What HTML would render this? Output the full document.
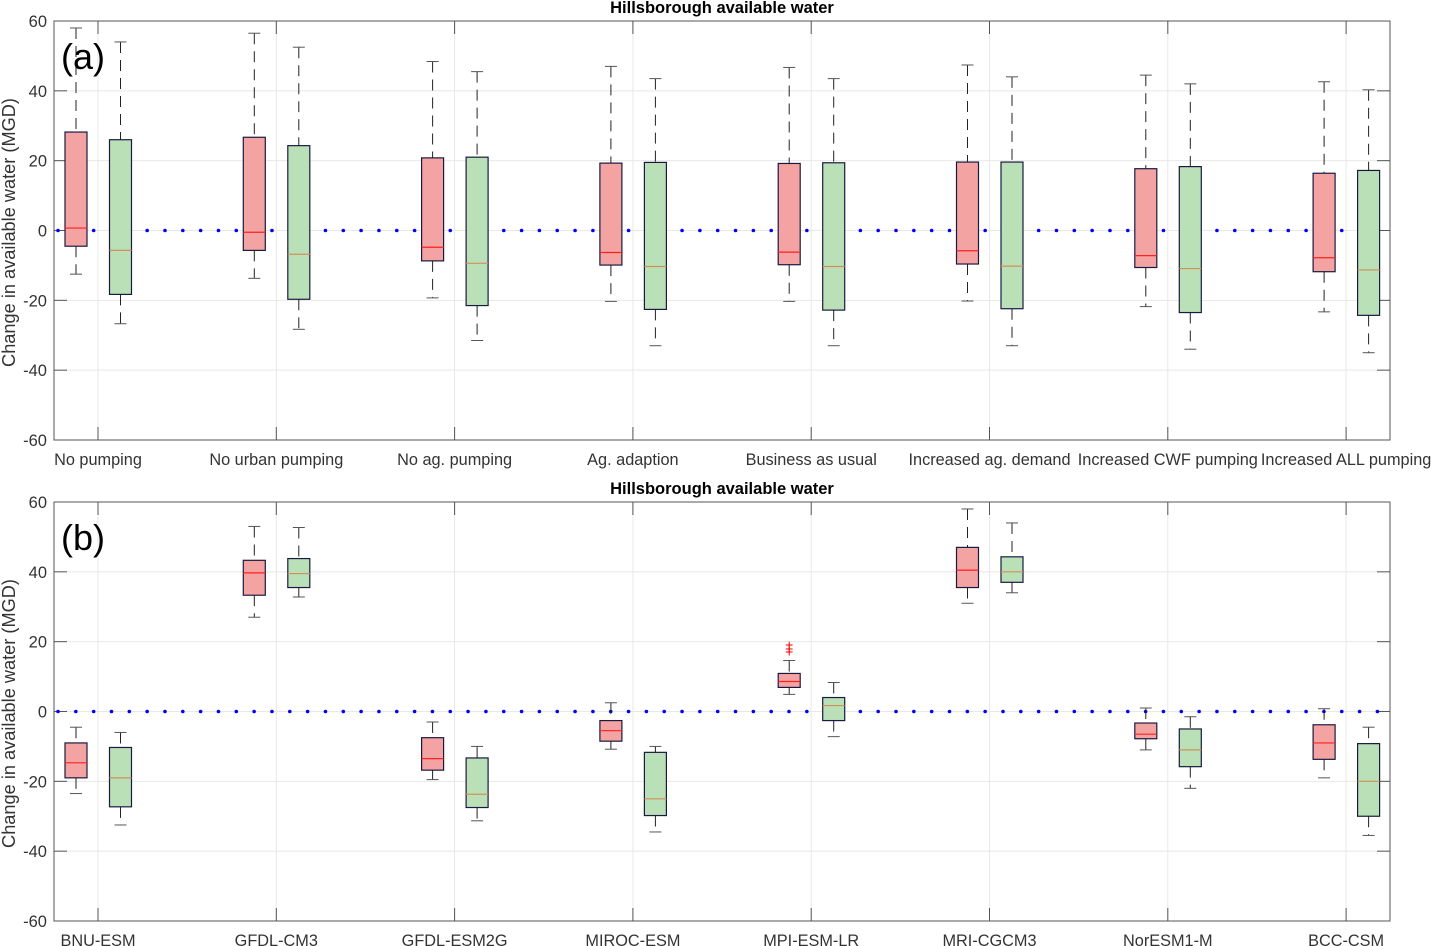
<!DOCTYPE html>
<html><head><meta charset="utf-8"><style>
html,body{margin:0;padding:0;background:#fff;}
svg{display:block;font-family:"Liberation Sans",sans-serif;}
</style></head><body>
<svg id="chart" width="1431" height="946" viewBox="0 0 1431 946" xmlns="http://www.w3.org/2000/svg"></svg>
<script>
// Panel (a) data
const catsA = ["No pumping","No urban pumping","No ag. pumping","Ag. adaption","Business as usual","Increased ag. demand","Increased CWF pumping","Increased ALL pumping"];
// [max, q3, median, q1, min]
const redA = [[58,28.2,0.7,-4.5,-12.5],[56.5,26.7,-0.5,-5.7,-13.7],[48.4,20.8,-4.8,-8.7,-19.3],[47,19.3,-6.3,-9.9,-20.3],[46.7,19.2,-6.2,-9.8,-20.3],[47.4,19.6,-5.8,-9.6,-20.2],[44.5,17.7,-7.2,-10.6,-21.8],[42.6,16.4,-7.8,-11.8,-23.3]];
const greenA = [[54,26,-5.7,-18.3,-26.7],[52.5,24.3,-6.8,-19.7,-28.3],[45.5,21,-9.4,-21.5,-31.5],[43.5,19.5,-10.3,-22.6,-33],[43.5,19.4,-10.3,-22.8,-33],[44,19.6,-10.2,-22.4,-33],[42,18.3,-10.9,-23.5,-34],[40.3,17.2,-11.3,-24.3,-35]];
// Panel (b) data
const catsB = ["BNU-ESM","GFDL-CM3","GFDL-ESM2G","MIROC-ESM","MPI-ESM-LR","MRI-CGCM3","NorESM1-M","BCC-CSM"];
const redB = [[-4.5,-9,-14.7,-19,-23.5],[53,43.3,39.7,33.3,27],[-3,-7.5,-13.5,-16.8,-19.5],[2.5,-2.6,-5.5,-8.5,-10.8],[14.6,10.9,8.6,6.9,4.9],[58,47,40.5,35.5,31],[1,-3.3,-6.5,-7.8,-11],[0.8,-3.8,-9,-13.7,-19]];
const greenB = [[-6,-10.3,-19,-27.3,-32.5],[52.7,43.8,39.5,35.5,32.8],[-10,-13.3,-23.7,-27.5,-31.3],[-10,-11.7,-25,-29.8,-34.5],[8.3,4,1.7,-2.6,-7.2],[54,44.3,40,37,34],[-1.5,-5,-11,-15.8,-22],[-4.5,-9.2,-20,-30,-35.5]];
const outliersB = [[],[],[],[],[17.2,18,19.2],[],[],[]];
const yTicks = [60,40,20,0,-20,-40,-60];

const NS="http://www.w3.org/2000/svg";
const svg=document.getElementById('chart');
function mk(tag,attrs,parent){const e=document.createElementNS(NS,tag);for(const k in attrs)e.setAttribute(k,attrs[k]);(parent||svg).appendChild(e);return e;}

function panel(top,bottom,cats,red,green,outl,letter,pname){
  const L=54,R=1390;
  const g=mk('g',{});
  
  
  const y=v=>top+(60-v)*(bottom-top)/120;
  const x=i=>98+i*178.3;
  yTicks.forEach(t=>{mk('line',{x1:L,x2:R,y1:y(t),y2:y(t),stroke:'#e8e8e8','stroke-width':1},g);});
  cats.forEach((c,i)=>{mk('line',{x1:x(i),x2:x(i),y1:top,y2:bottom,stroke:'#e8e8e8','stroke-width':1},g);});
  mk('rect',{x:L,y:top,width:R-L,height:bottom-top,fill:'none',stroke:'#555','stroke-width':1},g);
  yTicks.forEach(t=>{
    mk('line',{x1:L,x2:L+13,y1:y(t),y2:y(t),stroke:'#555'},g);
    mk('line',{x1:R-13,x2:R,y1:y(t),y2:y(t),stroke:'#555'},g);
    const tl=mk('text',{x:47,y:y(t)+6,'text-anchor':'end','font-size':16.5,fill:'#333'},g);
    
    
    tl.textContent=t;
  });
  cats.forEach((c,i)=>{
    mk('line',{x1:x(i),x2:x(i),y1:bottom-13,y2:bottom,stroke:'#555'},g);
    mk('line',{x1:x(i),x2:x(i),y1:top,y2:top+13,stroke:'#555'},g);
    const tl=mk('text',{x:x(i),y:bottom+25,'text-anchor':'middle','font-size':16.3,fill:'#333'},g);
    
    
    tl.textContent=c;
  });
  for(let xx=58;xx<R;xx+=17.83){mk('circle',{cx:xx,cy:y(0),r:1.8,fill:'#0000ff'},g);}
  function box(d,cx,fill,medc,name){
    const bg=mk('g',{},g);
    
    
    const w=22;
    mk('line',{x1:cx,x2:cx,y1:y(d[0]),y2:y(d[1]),stroke:'#222','stroke-dasharray':'11,7'},bg);
    mk('line',{x1:cx,x2:cx,y1:y(d[3]),y2:y(d[4]),stroke:'#222','stroke-dasharray':'11,7'},bg);
    mk('line',{x1:cx-6,x2:cx+6,y1:y(d[0]),y2:y(d[0]),stroke:'#555'},bg);
    mk('line',{x1:cx-6,x2:cx+6,y1:y(d[4]),y2:y(d[4]),stroke:'#555'},bg);
    mk('rect',{x:cx-w/2,y:y(d[1]),width:w,height:y(d[3])-y(d[1]),fill:fill,stroke:'#1a1a40','stroke-width':1.2},bg);
    mk('line',{x1:cx-w/2,x2:cx+w/2,y1:y(d[2]),y2:y(d[2]),stroke:medc,'stroke-width':1.2},bg);
  }
  cats.forEach((c,i)=>{
    box(red[i],x(i)-22,'#f4a3a3','#ff2020','box-red-'+i);
    box(green[i],x(i)+22.5,'#bae0b8','#d0905a','box-green-'+i);
    outl[i].forEach(v=>{
      const o=mk('text',{x:x(i)-22,y:y(v)+5,'text-anchor':'middle','font-size':14,fill:'#ff0000'},g);
      
      
      o.textContent='+';
    });
  });
  const t=mk('text',{x:722,y:top-8,'text-anchor':'middle','font-size':16.5,'font-weight':'bold',fill:'#000'},g);
  
  
  t.textContent='Hillsborough available water';
  const yl=mk('text',{x:0,y:0,transform:`translate(15,${(top+bottom)/2+2}) rotate(-90)`,'text-anchor':'middle','font-size':18.2,fill:'#333'},g);
  
  
  yl.textContent='Change in available water (MGD)';
  const pl=mk('text',{x:61,y:top+48,'font-size':36,fill:'#000'},g);
  
  
  pl.textContent=letter;
}
panel(21,440,catsA,redA,greenA,catsA.map(()=>[]),'(a)','panel-a');
panel(502,921,catsB,redB,greenB,outliersB,'(b)','panel-b');
</script>
</body></html>
